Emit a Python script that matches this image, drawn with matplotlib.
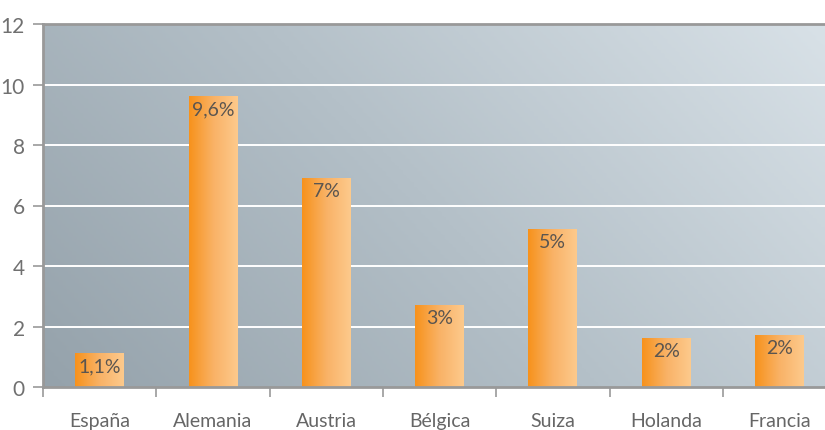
import numpy as np
import matplotlib.pyplot as plt
from matplotlib.colors import LinearSegmentedColormap

# datos
countries = ["España", "Alemania", "Austria", "Bélgica", "Suiza", "Holanda", "Francia"]
values = [1.1, 9.6, 6.9, 2.7, 5.2, 1.6, 1.7]
labels = ["1,1%", "9,6%", "7%", "3%", "5%", "2%", "2%"]
yticks = [0, 2, 4, 6, 8, 10, 12]

plt.rcParams["font.family"] = ["Lato", "DejaVu Sans"]

fig = plt.figure(figsize=(8.25, 4.31), dpi=100)
ax = fig.add_axes([43 / 825, 1 - 388 / 431, 782 / 825, 363 / 431])

n = len(countries)

# fondo degradado diagonal
bg = LinearSegmentedColormap.from_list("bg", ["#95a2ab", "#b4c0c8", "#d8e1e7"])
xx, yy = np.meshgrid(np.linspace(0, 1, 200), np.linspace(0, 1, 200))
ax.imshow(0.7 * xx + 0.3 * yy, cmap=bg, origin="lower", extent=[0, 1, 0, 1],
          transform=ax.transAxes, aspect="auto", zorder=0, interpolation="bilinear")

for y in yticks[1:-1]:
    ax.axhline(y, color="white", lw=1.4, zorder=1)

# barras con degradado horizontal
bar_cmap = LinearSegmentedColormap.from_list("bar", ["#f7921c", "#f9b266", "#fdca8c"])
grad = np.linspace(0, 1, 100).reshape(1, -1)
w = 0.43
for i, (v, lab) in enumerate(zip(values, labels)):
    ax.imshow(grad, cmap=bar_cmap, extent=[i - w / 2, i + w / 2, 0, v],
              aspect="auto", zorder=2, interpolation="bilinear")
    ax.text(i, v - 0.12, lab, ha="center", va="top", fontsize=14,
            color="#5a5550", zorder=3)

ax.set_xticks(range(n))
ax.set_xticklabels(countries)
ax.set_xticks(np.arange(-0.5, n, 1), minor=True)
ax.tick_params(axis="x", which="major", length=0, pad=18, labelsize=14,
               labelcolor="#666666")
ax.tick_params(axis="x", which="minor", length=7, width=1.2, color="#999999")
ax.set_yticks(yticks)
ax.tick_params(axis="y", length=7, width=1.2, color="#999999", pad=6,
               labelsize=15, labelcolor="#707070")

ax.set_xlim(-0.5, -0.5 + 782 / 113.3)
ax.set_ylim(0, 12)

for s in ["left", "bottom", "top"]:
    ax.spines[s].set_color("#999999")
    ax.spines[s].set_linewidth(2)
    ax.spines[s].set_zorder(4)
ax.spines["right"].set_visible(False)

fig.savefig("out.png", dpi=100)
